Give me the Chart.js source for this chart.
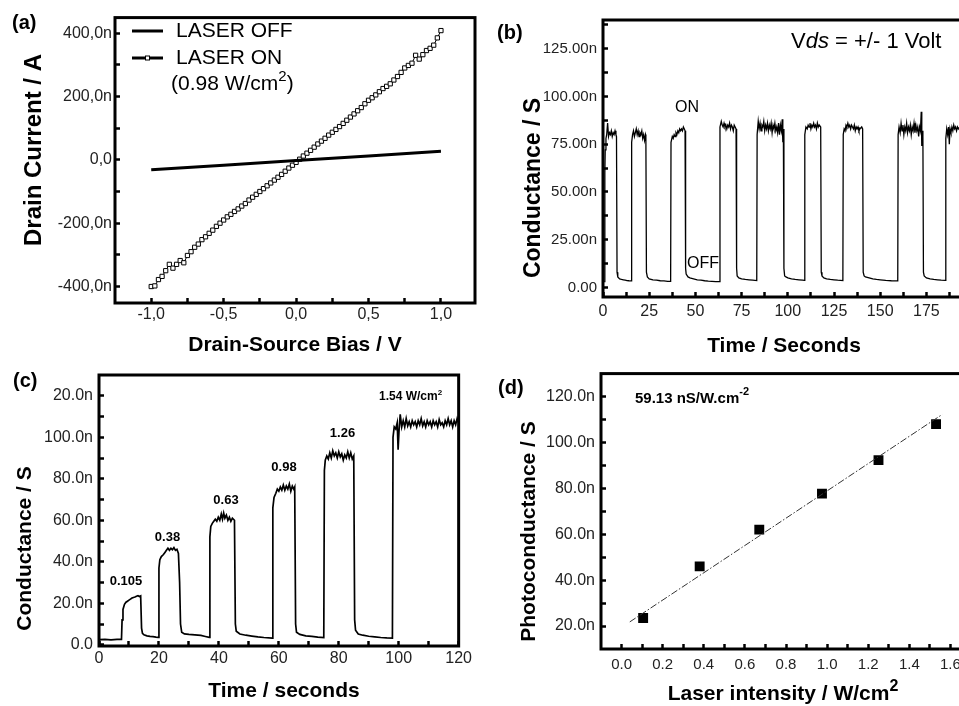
<!DOCTYPE html>
<html>
<head>
<meta charset="utf-8">
<script src="https://cdn.jsdelivr.net/npm/chart.js@4.4.1/dist/chart.umd.min.js"></script>
<style>
  html, body { margin: 0; padding: 0; background: #fff; overflow: hidden; width: 959px; height: 706px; }
  canvas { position: absolute; }
</style>
</head>
<body>
<canvas id="chartA" width="480" height="353" style="left:0;top:0"></canvas>
<canvas id="chartB" width="500" height="353" style="left:480px;top:0"></canvas>
<canvas id="chartC" width="480" height="353" style="left:0;top:353px"></canvas>
<canvas id="chartD" width="520" height="353" style="left:480px;top:353px"></canvas>
<script>
// ---- (a) I-V curves ----
var biasOn = [-1, -0.975, -0.95, -0.925, -0.9, -0.875, -0.85, -0.825, -0.8, -0.775, -0.75, -0.725, -0.7, -0.675, -0.65, -0.625,
              -0.6, -0.575, -0.55, -0.525, -0.5, -0.475, -0.45, -0.425, -0.4, -0.375, -0.35, -0.325, -0.3, -0.275, -0.25, -0.225,
              -0.2, -0.175, -0.15, -0.125, -0.1, -0.075, -0.05, -0.025, 0, 0.025, 0.05, 0.075, 0.1, 0.125, 0.15, 0.175,
              0.2, 0.225, 0.25, 0.275, 0.3, 0.325, 0.35, 0.375, 0.4, 0.425, 0.45, 0.475, 0.5, 0.525, 0.55, 0.575,
              0.6, 0.625, 0.65, 0.675, 0.7, 0.725, 0.75, 0.775, 0.8, 0.825, 0.85, 0.875, 0.9, 0.925, 0.95, 0.975, 1];
var currentOn = [-400, -398, -378, -368, -350, -330, -342, -330, -318, -325, -302, -290, -276, -266, -252, -243,
                 -232, -222, -210, -200, -190, -180, -172, -163, -155, -146, -138, -127, -118, -109, -100, -91,
                 -82, -73, -64, -55, -46, -36, -26, -17, -8, 2, 12, 21, 30, 40, 50, 59,
                 68, 78, 87, 96, 105, 115, 125, 135, 145, 155, 165, 177, 188, 196, 205, 215,
                 225, 232, 240, 252, 263, 276, 290, 298, 305, 330, 318, 332, 345, 352, 362, 385, 408];
var biasOff = [-1, -0.5, 0, 0.5, 1];
var currentOff = [-31, -17, -2, 12, 27];
var aXTicks = [-1, -0.75, -0.5, -0.25, 0, 0.25, 0.5, 0.75, 1];
var aXMajor = [-1, -0.5, 0, 0.5, 1];
var aXLabels = ['-1,0', '-0,5', '0,0', '0,5', '1,0'];
var aYTicks = [-400, -300, -200, -100, 0, 100, 200, 300, 400];
var aYMajor = [-400, -200, 0, 200, 400];
var aYLabels = ['-400,0n', '-200,0n', '0,0', '200,0n', '400,0n'];

// ---- (b) on/off switching, time (s) vs conductance (nS) ----
var traceB = [
  [0.6,3],[1.0,60],[1.2,72],[1.6,78],[2.0,80],[2.5,86],[3.0,79],[3.5,81],[4.0,80],[4.5,82],[5.0,79],[5.5,81],[6.0,80],[6.5,82],[7.0,80],[7.3,79],
  [7.6,8],[8.0,5.5],[9,4.5],[10,4.2],[11,4],[12,3.8],[13,3.6],[14,3.5],[15.3,3.4],
  [15.5,76],[16,80],[16.5,82],[17,79],[17.5,81],[18,83],[18.5,80],[19,82],[19.5,79],[20,81],[20.5,80],[21,82],[21.5,78],[22,80],[22.5,77],[23,80],[23.2,79],
  [23.5,8],[24,5.5],[25,4.5],[27,4],[29,3.8],[31,3.5],[33,3.4],[35,3.2],[36.6,3.2],
  [36.8,76],[37.5,79],[38,78],[38.5,80],[39,79],[39.5,81],[40,80],[40.5,82],[41,81],[41.5,83],[42,82],[42.5,83],[43,82],[43.5,84],[44,83],[44.4,82],
  [44.7,10],[45,7],[46,5.5],[47,5],[49,4.5],[51,4],[53,3.8],[55,3.5],[57,3.3],[59,3.2],[61,3],[63,3],
  [63.3,84],[64,87],[64.5,85],[65,84],[65.5,86],[66,84],[66.5,85],[67,83],[67.5,85],[68,84],[68.5,86],[69,83],[69.5,85],[70,84],[70.5,82],[71,85],[71.5,84],[72,83],
  [72.3,10],[72.6,6],[73.5,5],[75,4.5],[77,4.2],[79,4],[81,3.8],[83.2,3.6],
  [83.4,80],[84,87],[84.5,83],[85,86],[85.5,82],[86,85],[86.5,84],[87,87],[87.5,82],[88,85],[88.5,83],[89,86],[89.5,82],[90,85],[90.5,83],[91,86],[91.5,81],[92,85],[92.5,83],[93,86],[93.5,82],[94,84],[94.5,81],[95,86],[95.5,80],[96,85],[96.5,82],[97,88],[97.3,76],[97.6,83],
  [97.9,10],[98.3,6],[99,5.5],[100,5],[102,4.5],[104,4.2],[106,4],[108,3.8],[109,3.7],
  [109.2,80],[109.8,84],[110.5,83],[111,85],[111.5,84],[112,86],[112.5,83],[113,85],[113.5,84],[114,86],[114.5,84],[115,85],[115.5,83],[116,86],[116.5,84],[117,85],[117.8,84],
  [118.1,8],[118.5,6],[119.5,5],[121,4.5],[123,4.2],[125,4],[127,3.8],[129.8,3.6],
  [130,80],[130.5,83],[131,82],[131.5,85],[132,84],[132.5,86],[133,84],[133.5,85],[134,83],[134.5,85],[135,84],[135.5,83],[136,85],[136.5,82],[137,84],[137.5,83],[138,84],[138.5,82],[139,83],[140,84],[140.5,83],
  [140.8,8],[141.3,6],[142,5.5],[144,5],[146,4.5],[148,4.2],[150,4],[153,3.7],[156,3.5],[159.5,3.4],
  [159.7,80],[160.2,84],[160.8,81],[161.3,86],[161.8,82],[162.3,85],[162.8,80],[163.3,84],[163.8,82],[164.3,86],[164.8,81],[165.3,84],[165.8,82],[166.3,85],[166.8,80],[167.3,84],[167.8,82],[168.3,86],[168.8,81],[169.3,85],[169.8,82],[170.3,84],[170.8,79],[171.3,84],[171.8,82],[172.2,92],[172.5,74],[172.9,82],[173.1,80],
  [173.4,8],[173.8,6],[175,5],[177,4.5],[179,4.2],[181,4],[183,3.8],[185.3,3.7],
  [185.5,78],[186,83],[186.5,80],[187,84],[187.4,75],[187.8,83],[188.3,81],[188.8,84],[189.3,82],[189.8,85],[190.3,83],[190.8,84],[191.3,82],[191.8,84],[192.3,83],[193,84],[194,83]
];
var bXTicks = [0, 12.5, 25, 37.5, 50, 62.5, 75, 87.5, 100, 112.5, 125, 137.5, 150, 162.5, 175, 187.5];
var bXMajor = [0, 25, 50, 75, 100, 125, 150, 175];
var bXLabels = ['0', '25', '50', '75', '100', '125', '150', '175'];
var bYTicks = [0, 12.5, 25, 37.5, 50, 62.5, 75, 87.5, 100, 112.5, 125, 137.5];
var bYMajor = [0, 25, 50, 75, 100, 125];
var bYLabels = ['0.00', '25.00n', '50.00n', '75.00n', '100.00n', '125.00n'];

// ---- (c) steps at increasing laser intensity ----
var traceC = [
  [0,2.5],[2,2.6],[4,2.4],[6,2.6],[7.5,2.6],
  [7.7,12],[8,17],[8.5,19.5],[9,20.5],[9.5,21],[10,21.5],[10.5,22],[11,22.5],[11.5,22.8],[12,23],[12.5,23.4],[13,23.6],[13.5,23.2],[13.9,23.5],
  [14.2,8],[14.5,5.5],[15,4.8],[16,4.3],[17,4],[18,3.9],[19,3.7],[19.8,3.6],
  [20,37],[20.3,41],[20.8,42.5],[21.5,43.5],[22,44.5],[22.5,45.5],[23,46.5],[23.5,45.5],[24,46.5],[24.5,45.8],[25,46.8],[25.5,45.5],[26,46],[26.5,44],[26.9,30],[27.2,10],
  [27.6,6],[28.5,5.2],[30,5],[32,4.8],[34,4.5],[35.5,4],[36.8,3.6],
  [37,52],[37.3,57],[37.8,58.5],[38.3,59.5],[38.8,60.5],[39.3,59.5],[39.8,61.5],[40.3,60],[40.8,63],[41.2,60.5],[41.6,63.5],[42,61],[42.5,62.5],[43,60],[43.5,61.5],[44,59.5],[44.5,61],[45.2,60],
  [45.5,10],[45.8,6.5],[47,5.2],[49,4.6],[51,4.2],[53,3.8],[55,3.5],[57.8,3.2],
  [58,66],[58.4,71],[59,73],[59.5,75],[60,74],[60.5,76],[61,74.5],[61.5,77],[62,74.5],[62.5,76.5],[63,75],[63.5,77.5],[64,74],[64.5,76.5],[65,75],[65.3,76],
  [65.6,10],[65.9,6],[67,5],[69,4.3],[71,4],[73,3.7],[75,3.5],
  [75.2,84],[75.5,89],[76,91],[76.5,89.5],[77,92.5],[77.5,90],[78,93.5],[78.5,91],[79,92.5],[79.5,90],[80,93],[80.5,90.5],[81,92],[81.5,89],[82,91.5],[82.5,90],[83,93],[83.5,90],[84,92.5],[84.5,89.5],[85,91],
  [85.3,12],[85.6,7],[86.5,5.2],[88,4.6],[90,4.1],[92,3.8],[94,3.5],[96,3.3],[97.9,3.2],
  [98.1,100],[98.5,105],[99,104],[99.5,107],[99.8,94],[100.1,103],[100.5,111],[101,105],[101.5,108],[102,105],[102.5,109],[103,105.5],[103.5,107.5],[104,105],[104.5,108],[105,106],[105.5,107.5],[106,105],[106.5,108],[107,106],[107.5,109],[108,105.5],[108.5,107.5],[109,105],[109.5,108],[110,106],[110.5,107.5],[111,105],[111.5,108],[112,106],[112.5,107.5],[113,105],[113.5,108.5],[114,106],[114.5,107],[115,105],[115.5,108],[116,106],[116.5,109],[117,106],[117.5,108],[118,105],[118.5,108],[119,106],[119.5,109],[120,107]
];
var cXTicks = [0, 10, 20, 30, 40, 50, 60, 70, 80, 90, 100, 110, 120];
var cXMajor = [0, 20, 40, 60, 80, 100, 120];
var cXLabels = ['0', '20', '40', '60', '80', '100', '120'];
var cYTicks = [0, 10, 20, 30, 40, 50, 60, 70, 80, 90, 100, 110, 120];
var cYMajor = [0, 20, 40, 60, 80, 100, 120];
var cYLabels = ['0.0', '20.0n', '40.0n', '60.0n', '80.0n', '100.0n', '20.0n'];
var cStepLabels = ['0.105', '0.38', '0.63', '0.98', '1.26'];

// ---- (d) photoconductance vs intensity ----
var intensity = [0.105, 0.38, 0.67, 0.975, 1.25, 1.53];
var photoG = [23.5, 46, 62, 77.7, 92.3, 108];
var fitX = [0.04, 1.56];
var fitY = [21.8, 112.2];
var dXTicks = [0, 0.1, 0.2, 0.3, 0.4, 0.5, 0.6, 0.7, 0.8, 0.9, 1.0, 1.1, 1.2, 1.3, 1.4, 1.5, 1.6];
var dXMajor = [0, 0.2, 0.4, 0.6, 0.8, 1.0, 1.2, 1.4, 1.6];
var dXLabels = ['0.0', '0.2', '0.4', '0.6', '0.8', '1.0', '1.2', '1.4', '1.6'];
var dYTicks = [20, 30, 40, 50, 60, 70, 80, 90, 100, 110, 120];
var dYMajor = [20, 40, 60, 80, 100, 120];
var dYLabels = ['20.0n', '40.0n', '60.0n', '80.0n', '100.0n', '120.0n'];

var FAM = '"Liberation Sans", Arial, sans-serif';
function f(size, style) { return (style ? style + ' ' : '') + size + 'px ' + FAM; }

function pts(xs, ys) { return xs.map(function (x, i) { return {x: x, y: ys[i]}; }); }
function pairs(p) { return p.map(function (d) { return {x: d[0], y: d[1]}; }); }

function axis(min, max, ticks, major, labels, size, pad, fontSize) {
  return {
    type: 'linear', min: min, max: max,
    afterBuildTicks: function (s) { s.ticks = ticks.map(function (v) { return {value: v}; }); },
    afterFit: function (s) { if (s.isHorizontal()) s.height = size; else s.width = size; },
    grid: { drawOnChartArea: false, drawTicks: true, tickLength: -5, tickWidth: 2.5, tickColor: '#000' },
    border: { display: false },
    ticks: {
      autoSkip: false, maxRotation: 0, minRotation: 0, padding: pad, color: '#222',
      font: { family: FAM, size: fontSize },
      callback: function (v) {
        for (var i = 0; i < major.length; i++) if (Math.abs(major[i] - v) < 1e-6) return labels[i];
        return '';
      }
    }
  };
}

function drawRuns(ctx, t) {
  ctx.save();
  ctx.translate(t.x, t.y);
  if (t.rot) ctx.rotate(t.rot * Math.PI / 180);
  ctx.fillStyle = '#000';
  ctx.textBaseline = t.base || 'alphabetic';
  ctx.textAlign = 'left';
  var w = 0;
  t.runs.forEach(function (r) { ctx.font = r[1]; w += ctx.measureText(r[0]).width; });
  var x = t.align === 'center' ? -w / 2 : 0;
  t.runs.forEach(function (r) { ctx.font = r[1]; ctx.fillText(r[0], x, r[2] || 0); x += ctx.measureText(r[0]).width; });
  ctx.restore();
}

function deco(texts, extra) {
  return {
    id: 'deco',
    afterDraw: function (chart) {
      var ctx = chart.ctx, a = chart.chartArea;
      ctx.save();
      ctx.strokeStyle = '#000';
      ctx.lineWidth = 3;
      ctx.strokeRect(a.left, a.top, a.right - a.left, a.bottom - a.top);
      if (extra) extra(ctx);
      texts.forEach(function (t) { drawRuns(ctx, t); });
      ctx.restore();
    }
  };
}

function base(padding) {
  return {
    responsive: false, animation: false, devicePixelRatio: 1,
    layout: { padding: padding },
    plugins: { legend: { display: false }, tooltip: { enabled: false } }
  };
}

// (a)
var optA = base({ left: 0, top: 8, right: 5, bottom: 0 });
optA.scales = {
  x: axis(-1.25, 1.235, aXTicks, aXMajor, aXLabels, 50, 7, 16),
  y: axis(-452, 449, aYTicks, aYMajor, aYLabels, 115, 8, 16)
};
new Chart(document.getElementById('chartA'), {
  type: 'scatter',
  data: { datasets: [
    { data: pts(biasOff, currentOff), showLine: true, borderColor: '#000', borderWidth: 3, pointRadius: 0 },
    { data: pts(biasOn, currentOn), showLine: true, borderColor: '#000', borderWidth: 1, pointStyle: 'rect',
      pointRadius: 3, pointBackgroundColor: '#fff', pointBorderColor: '#000', pointBorderWidth: 1 }
  ] },
  options: optA,
  plugins: [deco([
    { x: 12, y: 29, runs: [['(a)', f(20, 'bold')]] },
    { x: 176, y: 37, runs: [['LASER OFF', f(21)]] },
    { x: 176, y: 64, runs: [['LASER ON', f(21)]] },
    { x: 171, y: 90, runs: [['(0.98 W/cm', f(21)], ['2', f(15), -9], [')', f(21)]] },
    { x: 34, y: 150, rot: -90, align: 'center', base: 'middle', runs: [['Drain Current / A', f(24, 'bold')]] },
    { x: 295, y: 351, align: 'center', runs: [['Drain-Source Bias / V', f(21, 'bold')]] }
  ], function (ctx) {
    ctx.lineWidth = 3;
    ctx.beginPath(); ctx.moveTo(132, 31); ctx.lineTo(163, 31); ctx.stroke();
    ctx.beginPath(); ctx.moveTo(132, 58); ctx.lineTo(163, 58); ctx.stroke();
    ctx.lineWidth = 1; ctx.fillStyle = '#fff';
    ctx.fillRect(145.5, 56, 4, 4); ctx.strokeRect(145.5, 56, 4, 4);
  })]
});

// (b)
var optB = base({ left: 0, top: 10, right: 7.4, bottom: 0 });
optB.scales = {
  x: axis(0, 200, bXTicks, bXMajor, bXLabels, 56, 10, 16),
  y: axis(-5, 140, bYTicks, bYMajor, bYLabels, 123, 11, 15)
};
new Chart(document.getElementById('chartB'), {
  type: 'scatter',
  data: { datasets: [
    { data: pairs(traceB), showLine: true, borderColor: '#000', borderWidth: 1.3, pointRadius: 0 }
  ] },
  options: optB,
  plugins: [deco([
    { x: 17, y: 39, runs: [['(b)', f(20, 'bold')]] },
    { x: 311, y: 48, runs: [['V', f(22)], ['ds', f(22, 'italic')], [' = +/- 1 Volt', f(22)]] },
    { x: 195, y: 112, runs: [['ON', f(16)]] },
    { x: 207, y: 268, runs: [['OFF', f(16)]] },
    { x: 54, y: 188, rot: -90, align: 'center', base: 'middle', runs: [['Conductance / S', f(23, 'bold')]] },
    { x: 304, y: 352, align: 'center', runs: [['Time / Seconds', f(21, 'bold')]] }
  ])]
});

// (c)
var optC = base({ left: 0, top: 22, right: 13, bottom: 0 });
optC.scales = {
  x: axis(0, 120, cXTicks, cXMajor, cXLabels, 60, 8, 16),
  y: axis(-0.6, 130, cYTicks, cYMajor, cYLabels, 99, 11, 16)
};
new Chart(document.getElementById('chartC'), {
  type: 'scatter',
  data: { datasets: [
    { data: pairs(traceC), showLine: true, borderColor: '#000', borderWidth: 1.7, pointRadius: 0 }
  ] },
  options: optC,
  plugins: [deco([
    { x: 13, y: 34, runs: [['(c)', f(20, 'bold')]] },
    { x: 126, y: 232, align: 'center', runs: [[cStepLabels[0], f(13, 'bold')]] },
    { x: 167.5, y: 188, align: 'center', runs: [[cStepLabels[1], f(13, 'bold')]] },
    { x: 226, y: 151, align: 'center', runs: [[cStepLabels[2], f(13, 'bold')]] },
    { x: 284, y: 118, align: 'center', runs: [[cStepLabels[3], f(13, 'bold')]] },
    { x: 342.5, y: 84, align: 'center', runs: [[cStepLabels[4], f(13, 'bold')]] },
    { x: 379, y: 47, runs: [['1.54 W/cm', f(12, 'bold')], ['2', f(8, 'bold'), -5]] },
    { x: 25, y: 195.5, rot: -90, align: 'center', base: 'middle', runs: [['Conductance / S', f(21, 'bold')]] },
    { x: 284, y: 344, align: 'center', runs: [['Time / seconds', f(21, 'bold')]] }
  ])]
});

// (d)
var optD = base({ left: 0, top: 11, right: 29, bottom: 0 });
optD.scales = {
  x: axis(-0.1, 1.7, dXTicks, dXMajor, dXLabels, 57, 12, 15),
  y: axis(10, 130, dYTicks, dYMajor, dYLabels, 121, 11, 16)
};
new Chart(document.getElementById('chartD'), {
  type: 'scatter',
  data: { datasets: [
    { data: pts(fitX, fitY), showLine: true, borderColor: '#333', borderWidth: 1, borderDash: [7, 2, 1.5, 2], pointRadius: 0 },
    { data: pts(intensity, photoG), pointStyle: 'rect', pointRadius: 7, pointBackgroundColor: '#000', pointBorderColor: '#000', pointBorderWidth: 0 }
  ] },
  options: optD,
  plugins: [deco([
    { x: 18, y: 41, runs: [['(d)', f(20, 'bold')]] },
    { x: 155, y: 50, runs: [['59.13 nS/W.cm', f(15, 'bold')], ['-2', f(11, 'bold'), -8]] },
    { x: 49.5, y: 178.5, rot: -90, align: 'center', base: 'middle', runs: [['Photoconductance / S', f(21, 'bold')]] },
    { x: 303, y: 347, align: 'center', runs: [['Laser intensity / W/cm', f(21, 'bold')], ['2', f(16, 'bold'), -9]] }
  ])]
});
</script>
</body>
</html>
